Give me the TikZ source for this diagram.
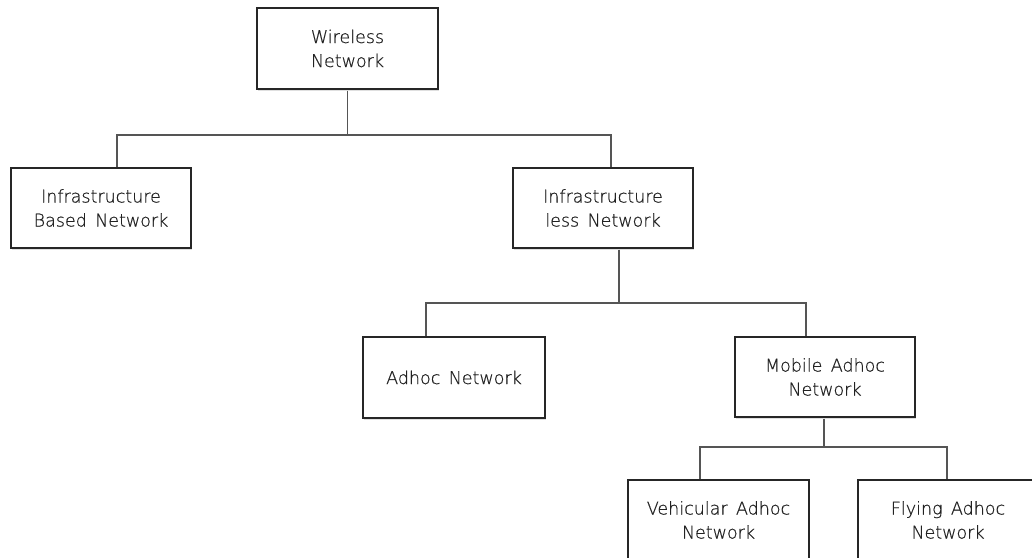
\documentclass[tikz,border=0pt]{standalone}
\usepackage{fontspec}
\setmainfont[WordSpace=1.5,FakeBold=0.6]{DejaVu Sans ExtraLight}
\usetikzlibrary{shadows,calc}
\definecolor{txt}{HTML}{222222}
\definecolor{ln}{HTML}{555555}
\begin{document}
\begin{tikzpicture}[x=1pt,y=-1pt,
  nbox/.style={draw=black!85, line width=1.1pt, fill=white, minimum width=180pt, minimum height=80pt,
    inner sep=0pt, align=center, text=txt, font=\fontsize{17.5}{24}\selectfont,
    drop shadow={shadow xshift=1.2pt, shadow yshift=-1.5pt, opacity=0.25}},
  conn/.style={draw=ln, line width=1.2pt}]
\clip (0,0) rectangle (1032,557);
\node[nbox, minimum width=181pt, minimum height=81pt] (b1) at (347.5,48.5) {Wireless\\Network};
\node[nbox] (b2) at (101,208) {Infrastructure\\Based Network};
\node[nbox] (b3) at (603,208) {Infrastructure\\less Network};
\node[nbox, minimum width=182pt, minimum height=81pt] (b4) at (454,377.5) {Adhoc Network};
\node[nbox] (b5) at (825,377) {Mobile Adhoc\\Network};
\node[nbox, minimum width=181pt] (b6) at (718.5,520) {Vehicular Adhoc\\Network};
\node[nbox] (b7) at (948,520) {Flying Adhoc\\Network};
% level 1
\coordinate (t1) at ($(b1.south)+(0,1)$);
\coordinate (h1l) at (117,135);
\coordinate (h1r) at (611,135);
\draw[conn] (t1) -- (t1 |- h1l);
\draw[conn] (h1l |- b2.north) -- (h1l) -- (h1r) -- (h1r |- b3.north);
% level 2
\coordinate (t2) at ($(b3.south)+(16,1)$);
\coordinate (h2l) at (426,303);
\coordinate (h2r) at (806,303);
\draw[conn] (t2) -- (t2 |- h2l);
\draw[conn] (h2l |- b4.north) -- (h2l) -- (h2r) -- (h2r |- b5.north);
% level 3
\coordinate (t3) at ($(b5.south)+(-1,1)$);
\coordinate (h3l) at (700,447);
\coordinate (h3r) at (947,447);
\draw[conn] (t3) -- (t3 |- h3l);
\draw[conn] (h3l |- b6.north) -- (h3l) -- (h3r) -- (h3r |- b7.north);
\end{tikzpicture}
\end{document}
